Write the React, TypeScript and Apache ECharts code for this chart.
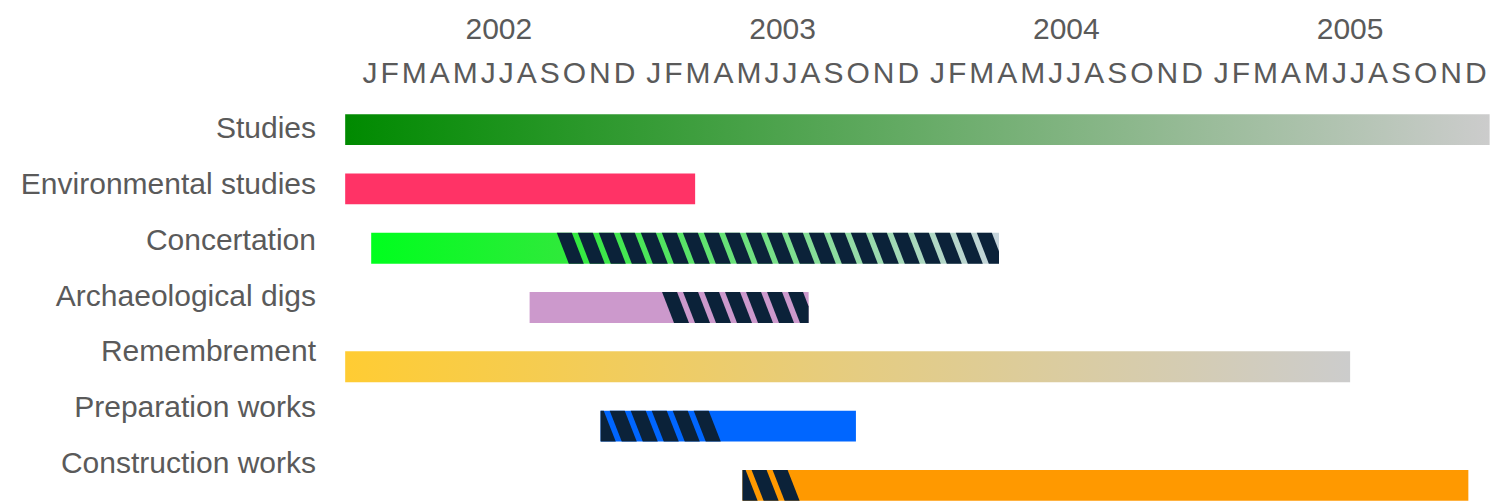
import React, { useEffect, useRef } from "react";
import * as echarts from "echarts";

const tasks = [
  "Studies",
  "Environmental studies",
  "Concertation",
  "Archaeological digs",
  "Remembrement",
  "Preparation works",
  "Construction works",
];
const years = ["2002", "2003", "2004", "2005"];
const monthLetters = ["J", "F", "M", "A", "M", "J", "J", "A", "S", "O", "N", "D"];
// positions in months counted from January 2002
const taskStart = [-0.5, -0.5, 0.6, 7.3, -0.5, 10.3, 16.3];
const taskEnd = [47.9, 14.3, 27.15, 19.1, 42.0, 21.1, 47.0];
const hatchStart: (number | null)[] = [null, null, 8.45, 12.9, null, 9.8, 15.8];
const hatchEnd: (number | null)[] = [null, null, 27.15, 19.1, null, 15.13, 18.22];

const TEXT = "#5a5a5a";
const FONT = "Liberation Sans";
const STRIPE = "#0b2239";

function makeFill(i: number) {
  const G = echarts.graphic.LinearGradient;
  switch (i) {
    case 0:
      return new G(0, 0, 1, 0, [
        { offset: 0, color: "#008a00" },
        { offset: 1, color: "#cccccc" },
      ]);
    case 1:
      return "#ff3366";
    case 2:
      return new G(0, 0, 1, 0, [
        { offset: 0, color: "#00ff1e" },
        { offset: 0.3, color: "#2eea3a" },
        { offset: 1, color: "#c6d4dc" },
      ]);
    case 3:
      return "#cc99cc";
    case 4:
      return new G(0, 0, 1, 0, [
        { offset: 0, color: "#ffcc33" },
        { offset: 1, color: "#cccccc" },
      ]);
    case 5:
      return "#0066ff";
    default:
      return "#ff9900";
  }
}

function clip(pts: number[][], a: number, keepGreater: boolean) {
  const out: number[][] = [];
  const inside = (p: number[]) => (keepGreater ? p[0] >= a : p[0] <= a);
  for (let i = 0; i < pts.length; i++) {
    const cur = pts[i];
    const prev = pts[(i + pts.length - 1) % pts.length];
    const ci = inside(cur);
    const pi = inside(prev);
    if (ci) {
      if (!pi) {
        const t = (a - prev[0]) / (cur[0] - prev[0]);
        out.push([a, prev[1] + t * (cur[1] - prev[1])]);
      }
      out.push(cur);
    } else if (pi) {
      const t = (a - prev[0]) / (cur[0] - prev[0]);
      out.push([a, prev[1] + t * (cur[1] - prev[1])]);
    }
  }
  return out;
}

export default function App() {
  const ref = useRef<HTMLDivElement>(null);
  useEffect(() => {
    if (!ref.current) return;
    const chart = echarts.init(ref.current, null, { renderer: "svg" });
    const labelStyle = {
      fontSize: 30,
      color: TEXT,
      fontFamily: FONT,
    };
    chart.setOption({
      animation: false,
      backgroundColor: "#ffffff",
      grid: [
        { left: 357, right: 16, top: 100, height: 415, containLabel: false, outerBoundsMode: "none" },
        { left: 330, width: 1, top: 100, height: 390, containLabel: false, outerBoundsMode: "none" },
      ],
      xAxis: [
        {
          gridIndex: 0,
          type: "category",
          position: "top",
          data: years,
          boundaryGap: true,
          axisLine: { show: false },
          axisTick: { show: false },
          splitLine: { show: false },
          axisLabel: {
            ...labelStyle,
            interval: 0,
            margin: 28,
            verticalAlign: "middle",
            formatter: () => monthLetters.map((m) => `{m|${m}}`).join(""),
            rich: {
              m: { ...labelStyle, padding: [0, 1.5, 0, 1.5] },
            },
          },
        },
        {
          gridIndex: 0,
          type: "category",
          position: "top",
          offset: 44,
          data: years,
          boundaryGap: true,
          axisLine: { show: false },
          axisTick: { show: false },
          splitLine: { show: false },
          axisLabel: { ...labelStyle, interval: 0, margin: 28, verticalAlign: "middle" },
        },
        { gridIndex: 0, type: "value", min: 0, max: 48, show: false },
        { gridIndex: 1, type: "value", min: 0, max: 1, show: false },
      ],
      yAxis: [
        { gridIndex: 0, type: "value", min: -0.5, max: 6.5, inverse: true, show: false },
        {
          gridIndex: 1,
          type: "category",
          data: tasks,
          inverse: true,
          axisLine: { show: false },
          axisTick: { show: false },
          splitLine: { show: false },
          axisLabel: { ...labelStyle, margin: 14, align: "right" },
        },
      ],
      series: [
        {
          type: "custom",
          xAxisIndex: 2,
          yAxisIndex: 0,
          clip: false,
          encode: { x: [0, 1], y: 2 },
          data: tasks.map((_, i) => [taskStart[i], taskEnd[i], i]),
          renderItem: (params: any, api: any) => {
            const i = params.dataIndex;
            const row = api.value(2);
            const s = api.coord([api.value(0), row]);
            const e = api.coord([api.value(1), row]);
            const h = api.size([0, 1])[1] * 0.52;
            const top = s[1] - h / 2;
            const bot = top + h;
            const children: any[] = [
              {
                type: "rect",
                shape: { x: s[0], y: top, width: e[0] - s[0], height: h },
                style: { fill: makeFill(i) },
              },
            ];
            const hs = hatchStart[i];
            const he = hatchEnd[i];
            if (hs != null && he != null) {
              const x0 = api.coord([hs, row])[0];
              const x1 = api.coord([he, row])[0];
              const P = 21;
              const W = 15;
              const slant = 12;
              for (let x = x0; x + W <= x1 + 1; x += P) {
                let pts = [
                  [x, top],
                  [x + W, top],
                  [x + W + slant, bot],
                  [x + slant, bot],
                ];
                pts = clip(pts, s[0], true);
                pts = clip(pts, e[0], false);
                if (pts.length >= 3) {
                  children.push({
                    type: "polygon",
                    shape: { points: pts },
                    style: { fill: STRIPE },
                  });
                }
              }
            }
            return { type: "group", children };
          },
        },
      ],
    });
    return () => chart.dispose();
  }, []);
  return (
    <div
      ref={ref}
      style={{ position: "fixed", left: 0, top: 0, width: 1508, height: 504, background: "#fff" }}
    />
  );
}
